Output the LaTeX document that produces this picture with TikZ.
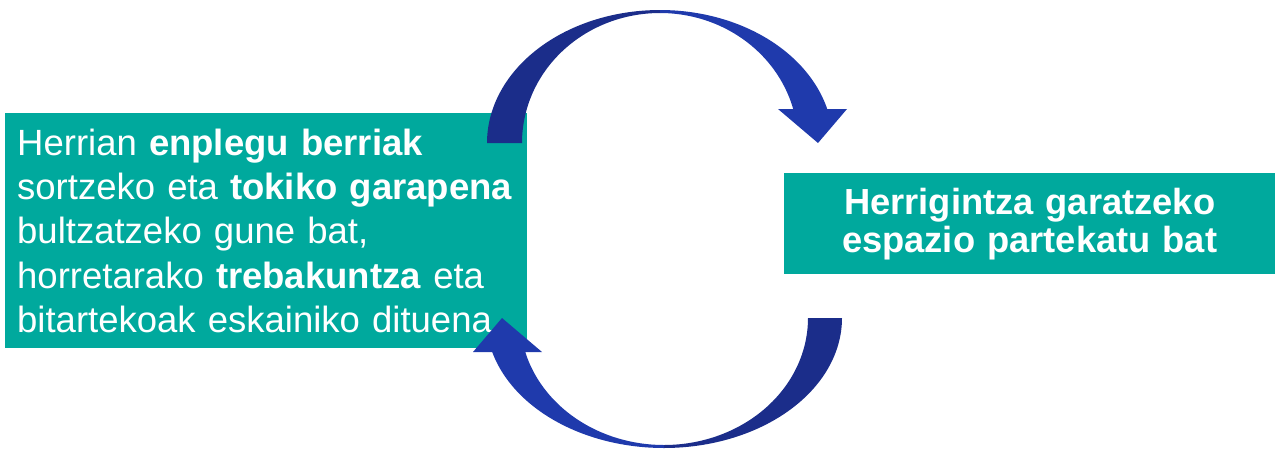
\documentclass[tikz,border=0pt]{standalone}
\usepackage{fontspec}
\setmainfont{Liberation Sans}
\definecolor{tealbox}{RGB}{0,169,157}
\definecolor{navyA}{RGB}{27,45,138}
\definecolor{navyB}{RGB}{31,58,172}
\begin{document}
\begin{tikzpicture}[x=1pt,y=-1pt,
  box/.style={fill=tealbox, text=white, inner ysep=0pt},
  leftbox/.style={box, anchor=north west, minimum width=522pt, minimum height=235pt,
    inner xsep=12pt, text width=498pt, align=left, font=\fontsize{36.5}{44.25}\selectfont},
  rightbox/.style={box, anchor=north west, minimum width=491pt, minimum height=101pt,
    inner xsep=6pt, text width=479pt, align=center, font=\bfseries\fontsize{36.3}{38}\selectfont}]
\useasboundingbox (0,0) rectangle (1275,448);
\node[leftbox] (L) at (5,113) {Herrian \textbf{enplegu berriak}\\
sortzeko eta \textbf{tokiko garapena}\\
bultzatzeko gune bat,\\
horretarako \textbf{trebakuntza} eta\\
bitartekoak eskainiko dituena};
\node[rightbox] (R) at (784,173) {Herrigintza garatzeko\\ espazio partekatu bat};
% top arrow
\fill[navyA] plot[domain=180:270,samples=60] ({660+173*cos(\x)},{143+133*sin(\x)})
  -- plot[domain=270:180,samples=60] ({660+138*cos(\x)},{143+130*sin(\x)}) -- cycle;
\fill[navyB] plot[domain=270:345.2,samples=60] ({660+173*cos(\x)},{143+133*sin(\x)})
  -- (847,109) -- (818,143) -- (778,109)
  -- plot[domain=344.84:270,samples=60] ({660+138*cos(\x)},{143+130*sin(\x)}) -- cycle;
% bottom arrow
\fill[navyA] plot[domain=0:90,samples=60] ({664+178*cos(\x)},{318+130*sin(\x)})
  -- plot[domain=90:0,samples=60] ({664+144*cos(\x)},{318+127*sin(\x)}) -- cycle;
\fill[navyB] plot[domain=90:164.84,samples=60] ({664+178*cos(\x)},{318+130*sin(\x)})
  -- (473,352) -- (502,318) -- (542,352)
  -- plot[domain=164.47:90,samples=60] ({664+144*cos(\x)},{318+127*sin(\x)}) -- cycle;
\end{tikzpicture}
\end{document}
